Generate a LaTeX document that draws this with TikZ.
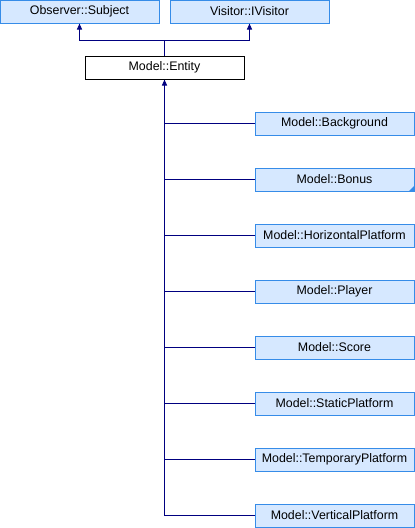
\documentclass[tikz,border=0pt]{standalone}
\usepackage{fontspec}
\setmainfont{Liberation Sans}
\usepackage{tikz}
\usetikzlibrary{
    arrows.meta,
    positioning,
    calc
}
\definecolor{Cfill}{RGB}{214, 232, 255}
\definecolor{Cedge}{RGB}{54, 140, 232}
\definecolor{Cline}{RGB}{0, 0, 128}
\tikzset{
    cbase/.style={
        rectangle, draw=Cedge, line width=1.0pt,
        fill=Cfill, text=black, minimum width=159pt, minimum height=23pt,
        align=center, font=\fontsize{12.4}{14}\selectfont, inner sep=0pt
    },
    cself/.style={
        cbase, draw=black, fill=white
    },
    cline/.style={line width=1.0pt, Cline},
    carr/.style={cline, -{Triangle[length=6pt, width=5pt]}},
}

\begin{document}
\begin{tikzpicture}[x=1pt, y=-1pt]
    \useasboundingbox (0,0) rectangle (415,528);

    % ── 基类 ──────────────────────────────────────────────
    \node [cbase] (subject) at (79.5,11.5) {Observer::Subject};
    \node [cbase] (ivisitor) at (249.5,11.5) {Visitor::IVisitor};

    % ── 当前类 ────────────────────────────────────────────
    \node [cself] (entity) at (164.5,67.5) {Model::Entity};

    % ── 派生类（右侧纵列）─────────────────────────────────
    \node [cbase] (background) at (334.5,123.5) {Model::Background};
    \node [cbase, below=32pt of background] (bonus) {Model::Bonus};
    \node [cbase, below=32pt of bonus] (hplatform) {Model::HorizontalPlatform};
    \node [cbase, below=32pt of hplatform] (player) {Model::Player};
    \node [cbase, below=32pt of player] (score) {Model::Score};
    \node [cbase, below=32pt of score] (splatform) {Model::StaticPlatform};
    \node [cbase, below=32pt of splatform] (tplatform) {Model::TemporaryPlatform};
    \node [cbase, below=32pt of tplatform] (vplatform) {Model::VerticalPlatform};

    % 未展开的继承标记
    \fill [Cedge] (bonus.south east) -- ++(-6,0) -- ++(6,-6) -- cycle;

    % ── 箭头：继承到基类 ──────────────────────────────────
    \coordinate (join) at (164.5,40);
    \draw [cline] (entity.north) -- (join);
    \draw [carr] (join) -| (subject.south);
    \draw [carr] (join) -| (ivisitor.south);

    % ── 箭头：派生类到 Entity ─────────────────────────────
    \draw [carr] (vplatform.west) -| (entity.south);
    \draw [cline] (background.west) -| (entity.south);
    \draw [cline] (bonus.west) -| (entity.south);
    \draw [cline] (hplatform.west) -| (entity.south);
    \draw [cline] (player.west) -| (entity.south);
    \draw [cline] (score.west) -| (entity.south);
    \draw [cline] (splatform.west) -| (entity.south);
    \draw [cline] (tplatform.west) -| (entity.south);

\end{tikzpicture}
\end{document}
